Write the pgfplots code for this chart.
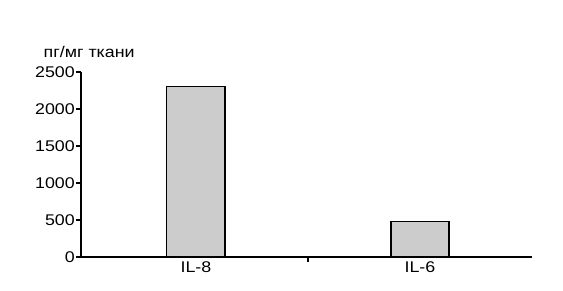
\documentclass[border=0pt]{standalone}
\usepackage{fontspec}
\setmainfont{Liberation Sans}[FakeStretch=1.15]
\usepackage{pgfplots}
\pgfplotsset{compat=1.18}
\begin{document}
\begin{tikzpicture}
\begin{axis}[
  name=ax,
  scale only axis,
  width=451pt, height=185pt,
  xmin=-0.513, xmax=1.5,
  ymin=0, ymax=2500,
  axis lines*=left,
  axis line style={line width=1.2pt},
  ytick={0,500,1000,1500,2000,2500},
  xtick={0.5}, xticklabels={},
  extra x ticks={0,1},
  extra x tick labels={IL-8,IL-6},
  extra x tick style={major tick length=0pt},
  tick align=outside,
  major tick length=5pt,
  tick style={line width=1.2pt, black},
  /pgf/number format/1000 sep={},
  /pgf/number format/assume math mode=true,
  tick label style={font=\fontsize{15.5}{18}\selectfont},
  yticklabel style={inner sep=1pt},
  xticklabel style={inner sep=2pt, yshift=-2pt},
  ylabel={пг/мг ткани},
  every axis y label/.style={at={(axis description cs:0.018,1.108)}, anchor=center, rotate=0, font=\fontsize{15.5}{18}\selectfont},
  clip=false,
]
\addplot[ybar, bar width=0.26, bar shift=0pt, fill=black!20, draw=black, line width=1.3pt]
  coordinates {(0,2300) (1,480)};
\end{axis}
\path[use as bounding box] ([shift={(-81pt,-33pt)}]ax.south west) rectangle ([shift={(482pt,257pt)}]ax.south west);
\end{tikzpicture}
\end{document}
